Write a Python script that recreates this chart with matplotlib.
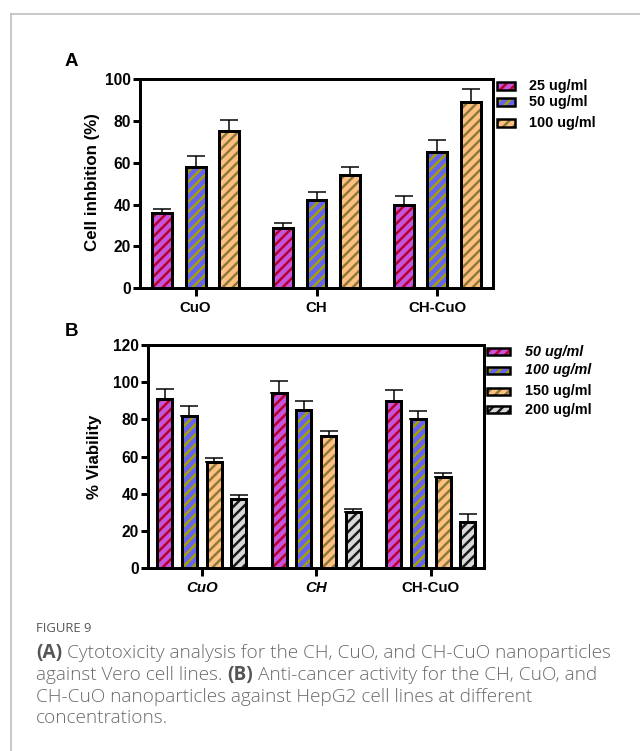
import matplotlib
matplotlib.use('Agg')
import matplotlib.pyplot as plt
import numpy as np
from matplotlib.patches import Rectangle
from matplotlib.lines import Line2D

# ---------------- data ----------------
categories_A = ['CuO', 'CH', 'CH-CuO']
series_A = ['25 ug/ml', '50 ug/ml', '100 ug/ml']
inhib_25 = [36, 29, 40]
inhib_25_err = [2, 2, 4]
inhib_50 = [58, 42, 65]
inhib_50_err = [5, 4, 6]
inhib_100 = [75, 54, 89]
inhib_100_err = [5.5, 4, 6]
yticks_A = [0, 20, 40, 60, 80, 100]

categories_B = ['CuO', 'CH', 'CH-CuO']
series_B = ['50 ug/ml', '100 ug/ml', '150 ug/ml', '200 ug/ml']
via_50 = [91, 94, 90]
via_50_err = [5.5, 6.5, 6]
via_100 = [82, 85, 80]
via_100_err = [5, 5, 4.5]
via_150 = [57, 71, 49]
via_150_err = [2.5, 2.7, 2.4]
via_200 = [37, 30, 25]
via_200_err = [2.2, 2.0, 4]
yticks_B = [0, 20, 40, 60, 80, 100, 120]

# ---------------- style ----------------
plt.rcParams['font.family'] = ['Liberation Sans', 'DejaVu Sans']
plt.rcParams['hatch.linewidth'] = 2.0

W, H, DPI = 640, 751, 90
fig = plt.figure(figsize=(W / DPI, H / DPI), dpi=DPI)
HATCH = '///'


def fx(x):
    return x / W


def fy(y):
    return 1 - y / H


FACES = ['#c455dc', '#6464f0', '#ffc080', '#d9d9d9']
STRIPES = ['#b8002a', '#a8a000', '#8c7a3c', '#1a1a1a']


def draw_bars(ax, xs, vals, errs, width, face, stripe):
    ax.errorbar(xs, vals, yerr=[np.zeros(len(vals)), errs], fmt='none',
                ecolor='black', elinewidth=1.2, capsize=7, capthick=1.2, zorder=1)
    ax.bar(xs, vals, width, color=face, edgecolor=stripe, hatch=HATCH,
           linewidth=0, zorder=2)
    ax.bar(xs, vals, width, facecolor='none', edgecolor='black',
           linewidth=2.4, zorder=3)


def style_axes(ax):
    for sp in ax.spines.values():
        sp.set_linewidth(2.4)
    ax.tick_params(axis='y', length=5.5, width=2.4, labelsize=12.5, pad=2)
    ax.tick_params(axis='x', length=6.5, width=2.4, labelsize=12, pad=4)
    for lab in ax.get_yticklabels() + ax.get_xticklabels():
        lab.set_fontweight('bold')


def legend_entry(x0, x1, y, h, face, stripe, text, tx, style='normal'):
    fig.add_artist(Rectangle((fx(x0), fy(y + h / 2)), (x1 - x0) / W, h / H,
                             transform=fig.transFigure, facecolor=face,
                             edgecolor=stripe, hatch=HATCH, linewidth=0))
    fig.add_artist(Rectangle((fx(x0), fy(y + h / 2)), (x1 - x0) / W, h / H,
                             transform=fig.transFigure, facecolor='none',
                             edgecolor='black', linewidth=2.0))
    fig.text(fx(tx), fy(y), text, fontsize=11.5, fontweight='bold',
             fontstyle=style, va='center', ha='left')


# ---------------- panel A ----------------
axA = fig.add_axes([fx(140), fy(288.3), 353 / W, 209.3 / H])
xA = np.arange(len(categories_A))
offA = [-0.275, 0, 0.275]
valsA = [inhib_25, inhib_50, inhib_100]
errsA = [inhib_25_err, inhib_50_err, inhib_100_err]
for i in range(3):
    draw_bars(axA, xA + offA[i], valsA[i], errsA[i], 0.165, FACES[i], STRIPES[i])
axA.set_xlim(-0.46, 2.46)
axA.set_ylim(0, 100)
axA.set_yticks(yticks_A)
axA.set_xticks(xA)
axA.set_xticklabels(categories_A)
style_axes(axA)
fig.text(fx(93), fy(182), 'Cell inhbition (%)', rotation=90, ha='center',
         va='center', fontsize=13.5, fontweight='bold')
fig.text(fx(65), fy(61), 'A', fontsize=15, fontweight='bold', va='center', ha='left')

for i, y in enumerate([86, 102, 123]):
    legend_entry(497, 515, y, 8, FACES[i], STRIPES[i], series_A[i], 529)

# ---------------- panel B ----------------
axB = fig.add_axes([fx(148.3), fy(568.3), 335.7 / W, 223.3 / H])
xB = np.arange(len(categories_B))
offB = [-0.324, -0.108, 0.108, 0.324]
valsB = [via_50, via_100, via_150, via_200]
errsB = [via_50_err, via_100_err, via_150_err, via_200_err]
for i in range(4):
    draw_bars(axB, xB + offB[i], valsB[i], errsB[i], 0.131, FACES[i], STRIPES[i])
axB.set_xlim(-0.466, 2.466)
axB.set_ylim(0, 120)
axB.set_yticks(yticks_B)
axB.set_xticks(xB)
axB.set_xticklabels(categories_B)
style_axes(axB)
for lab in axB.get_xticklabels()[:2]:
    lab.set_fontstyle('italic')
fig.text(fx(95), fy(457), '% Viability', rotation=90, ha='center',
         va='center', fontsize=13.5, fontweight='bold')
fig.text(fx(65), fy(332), 'B', fontsize=15, fontweight='bold', va='center', ha='left')

stylesB = ['italic', 'italic', 'normal', 'normal']
for i, y in enumerate([352, 370, 391, 410]):
    legend_entry(487, 510, y, 7, FACES[i], STRIPES[i], series_B[i], 525, stylesB[i])

# ---------------- frame ----------------
fig.add_artist(Line2D([fx(11), fx(11)], [fy(14), 0], color='#bdbdbd', lw=1.3,
                      transform=fig.transFigure))
fig.add_artist(Line2D([fx(11), 1], [fy(14), fy(14)], color='#bdbdbd', lw=1.3,
                      transform=fig.transFigure))

# ---------------- caption ----------------
CAP = dict(family=['Open Sans', 'DejaVu Sans'], fontsize=15.2,
           va='center', ha='left')
fig.text(fx(36), fy(628), 'FIGURE 9', family=['Open Sans', 'DejaVu Sans'],
         color='#595959', fontsize=10.5, fontweight='normal', va='center')

renderer = fig.canvas.get_renderer()


def text_w(s, weight):
    t = fig.text(0, 0, s, fontweight=weight, **CAP)
    w = t.get_window_extent(renderer).width
    t.remove()
    return w


space_w = text_w('x x', 'light') - text_w('xx', 'light')

caption_lines = [
    [('(A)', 'bold'), ('Cytotoxicity analysis for the CH, CuO, and CH-CuO nanoparticles', 'light')],
    [('against Vero cell lines.', 'light'), ('(B)', 'bold'),
     ('Anti-cancer activity for the CH, CuO, and', 'light')],
    [('CH-CuO nanoparticles against HepG2 cell lines at different', 'light')],
    [('concentrations.', 'light')],
]
for y, parts in zip([653, 675, 697, 718], caption_lines):
    x = 36
    for s, wt in parts:
        col = '#555555' if wt == 'bold' else '#6a6a6a'
        t = fig.text(fx(x), fy(y), s, fontweight=wt, color=col, **CAP)
        x += t.get_window_extent(renderer).width + space_w

fig.savefig('out.png', dpi=DPI)
